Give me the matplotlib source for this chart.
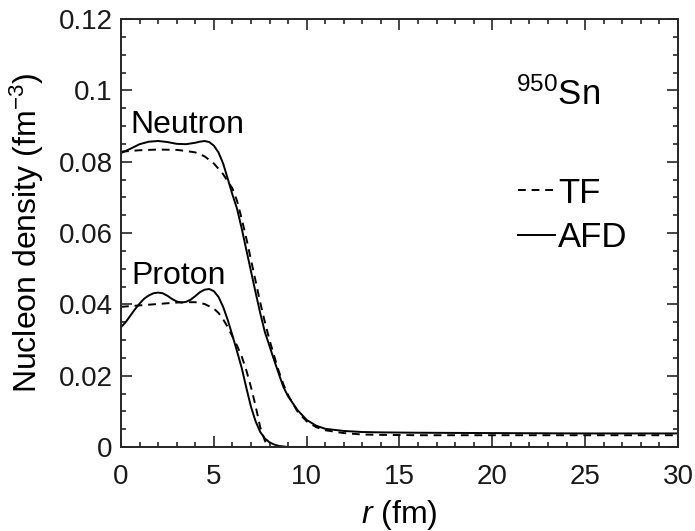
import matplotlib
matplotlib.use('Agg')
import matplotlib.pyplot as plt
import matplotlib.ticker as mtick

plt.rcParams['font.family'] = ['Liberation Sans', 'DejaVu Sans']
plt.rcParams['mathtext.fontset'] = 'custom'
plt.rcParams['mathtext.rm'] = 'Liberation Sans'
plt.rcParams['mathtext.it'] = 'Liberation Sans:italic'
plt.rcParams['mathtext.default'] = 'regular'

# densidade de neutrons (AFD)
r_n_afd = [0, 0.5, 1, 1.5, 2, 2.5, 3, 3.5, 4, 4.25, 4.5, 4.75, 5, 5.25, 5.5, 5.75, 6, 6.25, 6.5,
           6.75, 7, 7.25, 7.5, 7.75, 8, 8.25, 8.5, 8.75, 9, 9.5, 10, 10.5, 11, 12, 13, 14, 16, 20,
           25, 30]
n_afd = [0.0824, 0.0836, 0.0849, 0.0856, 0.0858, 0.0855, 0.0850, 0.0849, 0.0853, 0.0856, 0.0858,
         0.0855, 0.0845, 0.0826, 0.0795, 0.0752, 0.0708, 0.0668, 0.0613, 0.0553, 0.0493, 0.0433,
         0.0375, 0.0322, 0.0283, 0.0243, 0.0205, 0.0168, 0.0142, 0.0104, 0.0076, 0.0060, 0.0051,
         0.0045, 0.0042, 0.0041, 0.0040, 0.0039, 0.0038, 0.0038]

# densidade de neutrons (TF)
r_n_tf = [0, 0.5, 1, 2, 3, 3.5, 4, 4.5, 5, 5.5, 6, 6.25, 6.5, 6.75, 7, 7.25, 7.5, 7.75, 8,
          8.25, 8.5, 8.75, 9, 9.5, 10, 10.5, 11, 12, 13, 14, 16, 20, 25, 30]
n_tf = [0.0828, 0.0830, 0.0832, 0.0834, 0.0833, 0.0830, 0.0826, 0.0815, 0.0795, 0.0765, 0.0725,
        0.0690, 0.0640, 0.0585, 0.0525, 0.0465, 0.0405, 0.0350, 0.0300, 0.0255, 0.0212, 0.0175,
        0.0145, 0.0100, 0.0072, 0.0056, 0.0047, 0.0039, 0.0035, 0.0034, 0.0033, 0.0033, 0.0033, 0.0033]

# densidade de protons (AFD)
r_p_afd = [0, 0.25, 0.5, 0.75, 1, 1.25, 1.5, 1.75, 2, 2.25, 2.5, 2.75, 3, 3.25, 3.5, 3.75, 4,
           4.25, 4.5, 4.75, 5, 5.25, 5.5, 5.75, 6, 6.25, 6.5, 6.75, 7, 7.25, 7.5, 7.75, 8, 8.25,
           8.5, 9, 30]
p_afd = [0.0336, 0.0350, 0.0368, 0.0386, 0.0402, 0.0416, 0.0425, 0.0431, 0.0433, 0.0431, 0.0424,
         0.0415, 0.0408, 0.0405, 0.0407, 0.0413, 0.0423, 0.0434, 0.0441, 0.0443, 0.0437, 0.0421,
         0.0393, 0.0356, 0.0313, 0.0268, 0.0222, 0.0166, 0.0113, 0.0072, 0.0042, 0.0024, 0.0013,
         0.0007, 0.0003, 0.0, 0.0]

# densidade de protons (TF)
r_p_tf = [0, 1, 2, 3, 3.5, 4, 4.5, 5, 5.25, 5.5, 5.75, 6, 6.25, 6.5, 6.75, 7, 7.25, 7.5, 7.75,
          7.9, 30]
p_tf = [0.0393, 0.0397, 0.0401, 0.0405, 0.0406, 0.0406, 0.0401, 0.0388, 0.0376, 0.0358, 0.0336,
        0.0310, 0.0284, 0.0254, 0.0215, 0.0168, 0.0115, 0.0055, 0.0018, 0.0, 0.0]

fig = plt.figure(figsize=(6.95, 5.31), dpi=100)
ax = fig.add_axes([121 / 695, 1 - 447 / 531, 557 / 695, 428 / 531])

lw = 1.4
dash = (0, (4, 3))
ax.plot(r_n_tf, n_tf, color='k', lw=lw, linestyle=dash, label='TF')
ax.plot(r_n_afd, n_afd, color='k', lw=lw, label='AFD')
ax.plot(r_p_tf, p_tf, color='k', lw=lw, linestyle=dash)
ax.plot(r_p_afd, p_afd, color='k', lw=lw)

ax.set_xlim(0, 30)
ax.set_ylim(0, 0.12)
ax.xaxis.set_major_locator(mtick.MultipleLocator(5))
ax.xaxis.set_minor_locator(mtick.MultipleLocator(1))
ax.yaxis.set_major_locator(mtick.MultipleLocator(0.02))
ax.yaxis.set_minor_locator(mtick.MultipleLocator(0.005))
ax.yaxis.set_major_formatter(mtick.FuncFormatter(lambda v, _: f'{v:g}'))

axis_col = '#262626'
for s in ax.spines.values():
    s.set_linewidth(1.4)
    s.set_color(axis_col)
ax.tick_params(which='both', direction='in', top=True, right=True, width=1.2, color=axis_col,
               labelsize=20, labelcolor='#1a1a1a')
ax.tick_params(which='major', length=8)
ax.tick_params(which='minor', length=3.6)
ax.tick_params(axis='x', which='major', pad=12)
ax.tick_params(axis='y', which='major', pad=6)

ax.set_xlabel('$\\mathit{r}$ (fm)', fontsize=23, labelpad=6)
ax.set_ylabel('Nucleon density (fm$^{-3}$)', fontsize=23, labelpad=9)

ax.text(0.48, 0.0880, 'Neutron', fontsize=23, va='baseline', ha='left')
ax.text(0.54, 0.0457, 'Proton', fontsize=23, va='baseline', ha='left')
ax.text(21.3, 0.0959, '$^{950}$Sn', fontsize=25, va='baseline', ha='left')

ax.legend(loc='upper left', bbox_to_anchor=(0.713, 0.632), frameon=False, fontsize=25,
          borderpad=0, borderaxespad=0, handlelength=1.05, handletextpad=0.1, labelspacing=0.34)

plt.savefig('out.png', dpi=100)
